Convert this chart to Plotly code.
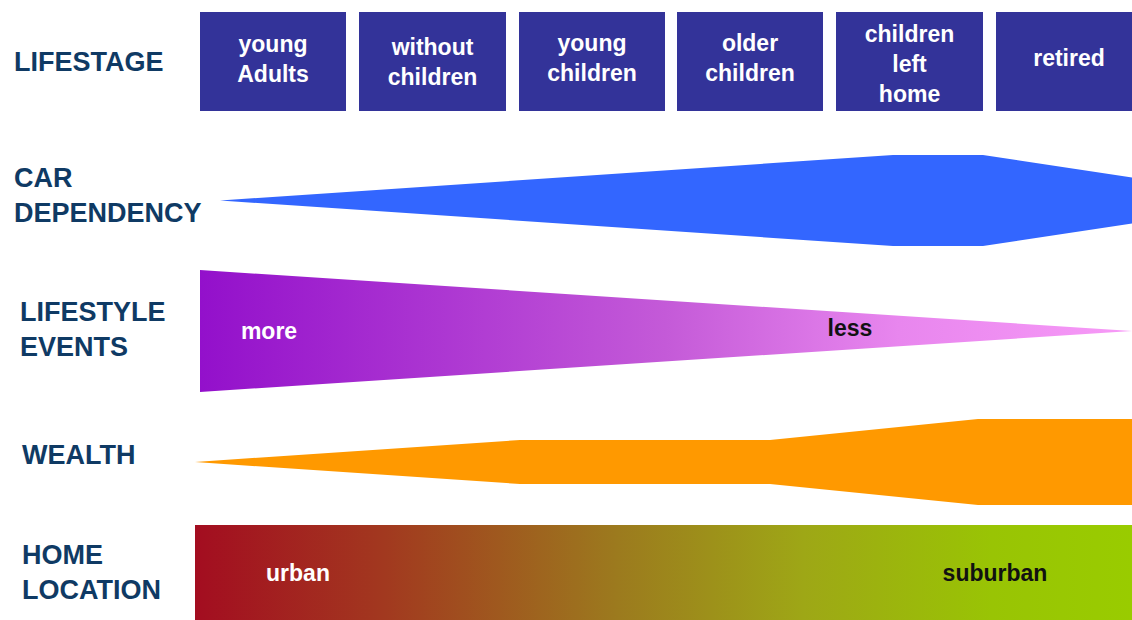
import plotly.graph_objects as go

# ---------------- data ----------------
stages = ["young<br>Adults", "without<br>children", "young<br>children",
          "older<br>children", "children<br>left<br>home", "retired"]
box_left = [200, 359, 519, 677, 836, 996]
box_right = [346, 506, 665, 823, 983, 1142]
box_text_y = [61, 64, 60, 60, 66, 60]

row_labels = ["LIFESTAGE", "CAR<br>DEPENDENCY", "LIFESTYLE<br>EVENTS", "WEALTH", "HOME<br>LOCATION"]
row_label_x = [12, 12, 18, 20, 20]
row_label_y = [62, 195, 329, 455, 572]

# car dependency profile (position along life course, half thickness)
car_x = [220, 893, 983, 1132]
car_half = [0, 45.5, 45.5, 23]
car_center = 200.5

# lifestyle events profile
life_x = [200, 1132]
life_half = [61, 0]
life_center = 331

# wealth profile
wealth_x = [195, 520, 770, 978, 1132]
wealth_half = [0, 22, 22, 43, 43]
wealth_center = 462

# home location band
home_x = [195, 1132]
home_half = [50, 50]
home_center = 575

# ---------------- styles ----------------
LABEL_COLOR = "#0f3a64"
BOX_COLOR = "#333399"
FONT = "Liberation Sans, Arial, sans-serif"


def band(xs, half, center):
    px = list(xs) + list(reversed(xs)) + [xs[0]]
    top = [center - h for h in half]
    bot = [center + h for h in half]
    py = top + list(reversed(bot)) + [top[0]]
    return px, py


fig = go.Figure()

# lifestage boxes
for l, r in zip(box_left, box_right):
    fig.add_trace(go.Scatter(
        x=[l, r, r, l, l], y=[12, 12, 111, 111, 12], mode="lines",
        fill="toself", fillcolor=BOX_COLOR, line=dict(width=0),
        hoverinfo="skip", showlegend=False))

fig.add_trace(go.Scatter(
    x=[(l + r) / 2 for l, r in zip(box_left, box_right)],
    y=box_text_y, mode="text",
    text=[f"<b>{s}</b>" for s in stages],
    textfont=dict(family=FONT, size=23, color="white"),
    hoverinfo="skip", showlegend=False))

# car dependency
px, py = band(car_x, car_half, car_center)
fig.add_trace(go.Scatter(x=px, y=py, mode="lines", fill="toself",
                         fillcolor="#3366ff", line=dict(width=0),
                         hoverinfo="skip", showlegend=False))

# lifestyle events
px, py = band(life_x, life_half, life_center)
fig.add_trace(go.Scatter(x=px, y=py, mode="lines", fill="toself",
                         fillgradient=dict(type="horizontal",
                                           colorscale=[[0, "#9310cb"], [0.5, "#c45ad8"],
                                                       [0.75, "#e886ee"], [1, "#f79af7"]]),
                         line=dict(width=0), hoverinfo="skip", showlegend=False))

# wealth
px, py = band(wealth_x, wealth_half, wealth_center)
fig.add_trace(go.Scatter(x=px, y=py, mode="lines", fill="toself",
                         fillcolor="#ff9900", line=dict(width=0),
                         hoverinfo="skip", showlegend=False))

# home location
px, py = band(home_x, home_half, home_center)
fig.add_trace(go.Scatter(x=px, y=py, mode="lines", fill="toself",
                         fillgradient=dict(type="horizontal",
                                           colorscale=[[0, "#a30d20"], [0.2, "#a2381f"],
                                                       [0.45, "#9c7a1e"], [0.65, "#9ea716"],
                                                       [0.85, "#99c404"], [1, "#99cc00"]]),
                         line=dict(width=0), hoverinfo="skip", showlegend=False))

# in-shape texts
fig.add_trace(go.Scatter(
    x=[269, 850, 298, 995], y=[333, 330, 575, 575], mode="text",
    text=["<b>more</b>", "<b>less</b>", "<b>urban</b>", "<b>suburban</b>"],
    textfont=dict(family=FONT, size=23, color=["white", "#111111", "white", "#111111"]),
    hoverinfo="skip", showlegend=False))

# row labels
for t, x, y in zip(row_labels, row_label_x, row_label_y):
    fig.add_annotation(x=x, y=y, xref="x", yref="y", text=f"<b>{t}</b>",
                       showarrow=False, xanchor="left", yanchor="middle", align="left",
                       font=dict(family=FONT, size=27, color=LABEL_COLOR))

fig.update_layout(
    width=1132, height=620, margin=dict(l=0, r=0, t=0, b=0),
    paper_bgcolor="white", plot_bgcolor="white",
    xaxis=dict(range=[0, 1132], visible=False, fixedrange=True),
    yaxis=dict(range=[620, 0], visible=False, fixedrange=True),
)

fig.write_html(
    "out.html",
    config={"displayModeBar": False, "staticPlot": True},
    post_script="document.body.style.margin='0';document.body.style.overflow='hidden';",
)
